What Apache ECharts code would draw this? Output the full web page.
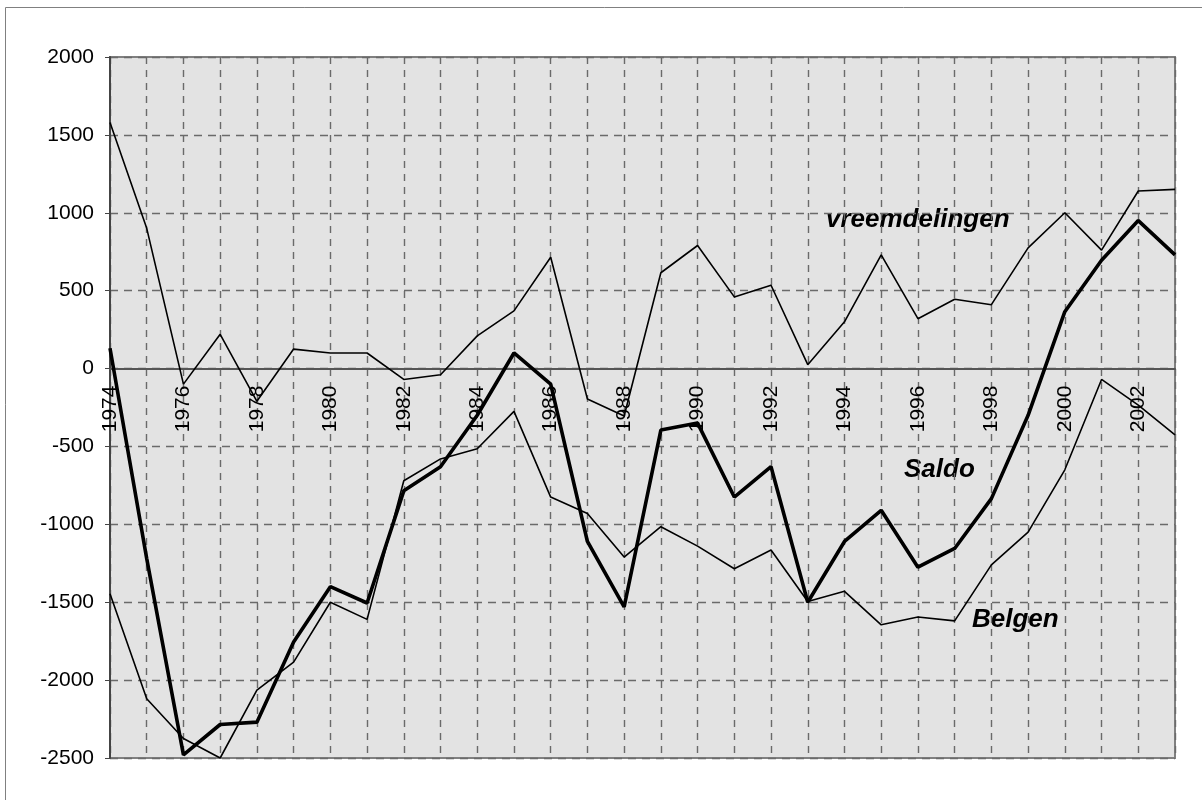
<!DOCTYPE html>
<html>
<head>
<meta charset="utf-8">
<script src="https://cdn.jsdelivr.net/npm/echarts@6/dist/echarts.min.js"></script>
<style>
html,body{margin:0;padding:0;background:#fff;}
#chart{width:1202px;height:800px;}
</style>
</head>
<body>
<div id="chart"></div>
<script>
var years = ['1974','1975','1976','1977','1978','1979','1980','1981','1982','1983','1984','1985','1986','1987','1988','1989','1990','1991','1992','1993','1994','1995','1996','1997','1998','1999','2000','2001','2002','2003'];
var vreemdelingen = [1580,900,-100,220,-210,125,100,100,-70,-40,210,370,715,-195,-305,615,790,460,535,25,300,730,320,445,410,775,1000,760,1140,1150];
var saldo = [130,-1220,-2480,-2285,-2270,-1755,-1400,-1505,-785,-630,-300,100,-100,-1110,-1530,-395,-350,-825,-630,-1500,-1110,-910,-1275,-1155,-835,-300,365,695,950,730];
var belgen = [-1445,-2120,-2375,-2500,-2065,-1885,-1500,-1610,-720,-580,-515,-275,-825,-930,-1210,-1015,-1140,-1285,-1165,-1495,-1430,-1645,-1595,-1620,-1260,-1050,-650,-70,-235,-425];
var yMin = -2500, yMax = 2000, yStep = 500;

var GRID_TOP = 57, GRID_BOTTOM = 42, H = 800;
var plotH = H - GRID_TOP - GRID_BOTTOM;
var zeroOffset = -plotH * (0 - yMin) / (yMax - yMin);

var chart = echarts.init(document.getElementById('chart'));
var FONT = '"Liberation Sans", Arial, sans-serif';
var gridCol = '#6a6a6a';
chart.setOption({
  animation: false,
  backgroundColor: '#ffffff',
  grid: {left: 110, right: 27, top: GRID_TOP, bottom: GRID_BOTTOM, show: true, backgroundColor: '#e3e3e3', borderColor: '#808080', borderWidth: 2},
  xAxis: [{
    type: 'category', data: years, boundaryGap: false,
    position: 'bottom', offset: zeroOffset,
    axisLine: {show: true, onZero: false, lineStyle: {color: '#555555', width: 2}},
    axisTick: {show: false},
    axisLabel: {rotate: 90, interval: 1, margin: 17, fontSize: 21, color: '#000', fontFamily: FONT},
    splitLine: {show: false}
  }, {
    type: 'category', data: years, boundaryGap: false, position: 'bottom',
    axisLine: {show: false}, axisTick: {show: false}, axisLabel: {show: false},
    splitLine: {show: true, interval: 0, lineStyle: {color: gridCol, width: 1.4, type: [7, 6]}}
  }],
  yAxis: {
    type: 'value', min: yMin, max: yMax, interval: yStep,
    axisLine: {show: true, lineStyle: {color: '#444444', width: 2}},
    axisTick: {show: true, length: 5, lineStyle: {color: '#444444', width: 1}},
    axisLabel: {fontSize: 21, color: '#000', margin: 16, fontFamily: FONT, formatter: function (v) { return String(v); }},
    splitLine: {show: true, lineStyle: {color: gridCol, width: 1.4, type: [8, 6]}}
  },
  series: [
    {name: 'vreemdelingen', type: 'line', data: vreemdelingen, symbol: 'none', lineStyle: {color: '#000', width: 1.6}},
    {name: 'Belgen', type: 'line', data: belgen, symbol: 'none', lineStyle: {color: '#000', width: 1.6}},
    {name: 'Saldo', type: 'line', data: saldo, symbol: 'none', lineStyle: {color: '#000', width: 3.6}}
  ],
  graphic: [
    {type: 'rect', silent: true, shape: {x: 5.5, y: 7.5, width: 1300, height: 900}, style: {fill: 'none', stroke: '#808080', lineWidth: 1}},
    {type: 'text', left: 826, top: 207, style: {text: 'vreemdelingen', font: 'italic bold 26px ' + FONT, fill: '#000'}},
    {type: 'text', left: 904, top: 457, style: {text: 'Saldo', font: 'italic bold 26px ' + FONT, fill: '#000'}},
    {type: 'text', left: 972, top: 607, style: {text: 'Belgen', font: 'italic bold 26px ' + FONT, fill: '#000'}}
  ]
});
</script>
</body>
</html>
